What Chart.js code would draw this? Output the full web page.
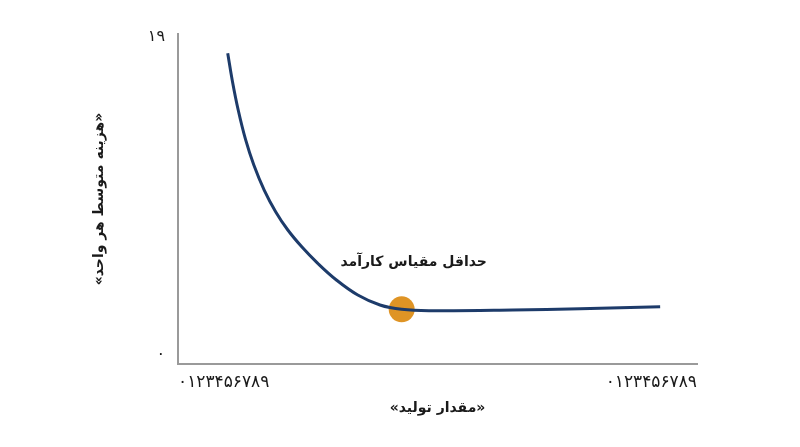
<!DOCTYPE html>
<html lang="fa">
<head>
<meta charset="utf-8">
<title>هزینه متوسط</title>
<script src="https://cdn.jsdelivr.net/npm/chart.js@4.4.1/dist/chart.umd.min.js"></script>
<style>
  html, body { margin: 0; padding: 0; background: #fff; }
  #wrap { width: 800px; height: 447px; }
</style>
</head>
<body>
<div id="wrap"><canvas id="costChart" width="800" height="447"></canvas></div>
<script>
// ---------- Data ----------
const quantity = [9.58, 10.44, 11.60, 13.04, 14.61, 16.61, 18.84, 21.16, 23.89, 26.88, 30.52, 34.64, 38.92, 43.1, 48.6, 64.5, 77.5, 92.9];
const avgCost  = [18.05, 16.45, 14.65, 12.86, 11.36, 9.86, 8.55, 7.47, 6.45, 5.49, 4.48, 3.58, 2.98, 2.72, 2.64, 2.68, 2.76, 2.88];
const minQuantity = [43.1];
const minCost = [2.72];

const xTickValues = [0, 100];
const xTickLabels = ["۰۱۲۳۴۵۶۷۸۹", "۰۱۲۳۴۵۶۷۸۹"];
const yTickValues = [0, 19];
const yTickLabels = ["۰", "۱۹"];

const xTitle = "«مقدار تولید»";
const yTitle = "«هزینه متوسط هر واحد»";
const minLabel = "حداقل مقیاس کارآمد";

// ---------- Helpers ----------
const FONT = "'DejaVu Sans', 'Noto Sans', sans-serif";

function toPoints(xs, ys) {
  return xs.map((x, i) => ({ x: x, y: ys[i] }));
}

// label for the minimum point, placed relative to the orange dot
const minLabelPlugin = {
  id: "minLabel",
  afterDatasetsDraw(chart) {
    const meta = chart.getDatasetMeta(1);
    if (!meta || !meta.data.length) return;
    const pt = meta.data[0];
    const ctx = chart.ctx;
    ctx.save();
    ctx.font = "bold 14px " + FONT;
    ctx.fillStyle = "#1a1a1a";
    ctx.textAlign = "center";
    ctx.textBaseline = "middle";
    ctx.fillText(minLabel, pt.x + 12, pt.y - 47);
    ctx.restore();
  }
};

// ---------- Chart ----------
const ctx = document.getElementById("costChart").getContext("2d");
new Chart(ctx, {
  type: "scatter",
  data: {
    datasets: [
      {
        data: toPoints(quantity, avgCost),
        showLine: true,
        borderColor: "#1d3b6a",
        borderWidth: 3,
        pointRadius: 0,
        tension: 0.4,
        fill: false
      },
      {
        data: toPoints(minQuantity, minCost),
        showLine: false,
        pointRadius: 13,
        pointHoverRadius: 13,
        pointBackgroundColor: "#df9425",
        pointBorderWidth: 0
      }
    ]
  },
  options: {
    responsive: false,
    animation: false,
    layout: { padding: { left: 0, right: 103, top: 34, bottom: 0 } },
    plugins: {
      legend: { display: false },
      tooltip: { enabled: false }
    },
    scales: {
      x: {
        type: "linear",
        min: 0,
        max: 100,
        grid: { display: false, drawTicks: false },
        border: { display: true, color: "#9a9a9a", width: 2 },
        afterBuildTicks: scale => { scale.ticks = xTickValues.map(v => ({ value: v })); },
        afterFit: scale => { scale.height = 83; },
        ticks: {
          align: "inner",
          maxRotation: 0,
          padding: 8,
          color: "#1a1a1a",
          font: { family: FONT, size: 17 },
          callback: (v, i) => xTickLabels[i]
        },
        title: {
          display: true,
          text: xTitle,
          color: "#1a1a1a",
          font: { family: FONT, size: 14, weight: "bold" },
          padding: { top: 0, bottom: 30 }
        }
      },
      y: {
        type: "linear",
        min: -0.55,
        max: 19.2,
        grid: { display: false, drawTicks: false },
        border: { display: true, color: "#9a9a9a", width: 2 },
        afterBuildTicks: scale => { scale.ticks = yTickValues.map(v => ({ value: v })); },
        afterFit: scale => { scale.width = 178; },
        ticks: {
          padding: 13,
          color: "#1a1a1a",
          font: { family: FONT, size: 16 },
          callback: (v, i) => yTickLabels[i]
        },
        title: {
          display: true,
          text: yTitle,
          color: "#1a1a1a",
          font: { family: FONT, size: 14, weight: "bold" },
          padding: { top: 91, bottom: 0 }
        }
      }
    }
  },
  plugins: [minLabelPlugin]
});
</script>
</body>
</html>
